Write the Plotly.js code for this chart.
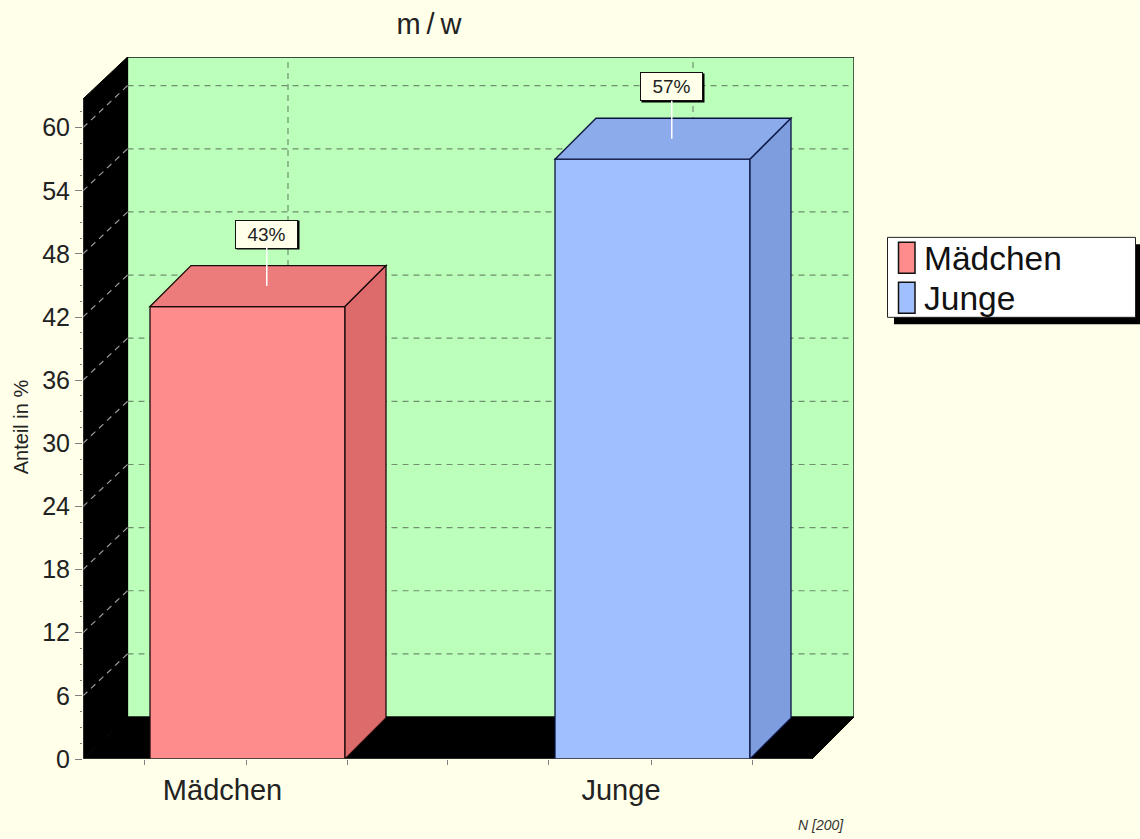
<!DOCTYPE html>
<html><head><meta charset="utf-8">
<script src="https://cdn.plot.ly/plotly-3.0.1.min.js"></script>
<style>html,body{margin:0;padding:0;background:#FFFFEA}</style>
</head><body><div id="chart" style="width:1140px;height:839px"></div>
<script>
const categories = ['Mädchen', 'Junge'];
const shares = [43, 57];
const pointLabels = ['43%', '57%'];
const frontColors = ['#FF8C8C', '#A0BFFF'];
const topColors = ['#EC7B7B', '#8CABEB'];
const sideColors = ['#DD6B6B', '#7E9DDE'];
const edgeColors = ['#1A0A0A', '#0C1440'];
const yTicks = [0, 6, 12, 18, 24, 30, 36, 42, 48, 54, 60];
const yMinorTicks = [1.5, 3, 4.5, 7.5, 9, 10.5, 13.5, 15, 16.5, 19.5, 21, 22.5, 25.5, 27, 28.5, 31.5, 33, 34.5, 37.5, 39, 40.5, 43.5, 45, 46.5, 49.5, 51, 52.5, 55.5, 57, 58.5, 61.5];
const xTickMarks = [-0.2531, -0.0037, 0.2469, 0.4938, 0.7444, 0.9963, 1.2469];
const xLabelPositions = [-0.0617, 0.9222];

// frame geometry
const L = 83, R = 854, T = 56.5, B = 759;
const pxPerX = 405, pxPerY = 10.53;
const xMin = -(247.5 - L) / pxPerX, xMax = (R - 247.5) / pxPerX;
const yMax = (B - T) / pxPerY;
const wallLeftDX = 44.5 / pxPerX, wallRightDX = 42 / pxPerX, wallDY = 42 / pxPerY;
const barDX = 41 / pxPerX, barDY = 41 / pxPerY;
const barWidth = 195 / pxPerX;
const frontRight = xMax - wallRightDX;
const frontTop = yMax - wallDY;
const px = p => (p - L) / (R - L);
const py = p => (B - p) / (B - T);

const poly = (pts, fill, lineColor, layer, w) => ({
  type: 'path', xref: 'x', yref: 'y', layer: layer || 'below',
  path: 'M' + pts.map(q => q[0] + ',' + q[1]).join('L') + 'Z',
  fillcolor: fill, line: { color: lineColor || fill, width: w || 1 }
});
const seg = (x0, y0, x1, y1, color, dash, layer, w) => ({
  type: 'line', xref: 'x', yref: 'y', layer: layer || 'below',
  x0, y0, x1, y1, line: { color, width: w || 1, dash: dash || 'solid' }
});
const box = (x0, y0, x1, y1, fill, lineColor, w) => ({
  type: 'rect', xref: 'paper', yref: 'paper', layer: 'above',
  x0: px(x0), x1: px(x1), y0: py(y0), y1: py(y1),
  fillcolor: fill, line: { color: lineColor, width: w === undefined ? 1 : w }
});

const shapes = [];
// back wall, side wall, floor
shapes.push(poly([[xMin + wallLeftDX, wallDY], [xMax, wallDY], [xMax, yMax], [xMin + wallLeftDX, yMax]], '#BBFFBB', '#111111', 'below', 1.3));
shapes.push(poly([[xMin, 0], [xMin, frontTop], [xMin + wallLeftDX, yMax], [xMin + wallLeftDX, wallDY]], '#000000'));
shapes.push(poly([[xMin, 0], [xMin + wallLeftDX, wallDY], [xMax, wallDY], [frontRight, 0]], '#000000'));
// grid
const dashPattern = '6px,5px';
yTicks.filter(v => v > 0).forEach(v => {
  shapes.push(seg(xMin + wallLeftDX, v + wallDY, xMax - 0.005, v + wallDY, '#6F8F6F', dashPattern, 'below', 1.2));
  shapes.push(seg(xMin, v, xMin + wallLeftDX, v + wallDY, '#9A9A9A', dashPattern, 'below', 1.2));
});
categories.forEach((c, i) => {
  const gx = i + wallRightDX - 0.0037;
  shapes.push(seg(gx, wallDY, gx, yMax, '#6F8F6F', dashPattern, 'below', 1.2));
});
// bar top and side faces
categories.forEach((c, i) => {
  const l = i - barWidth / 2, r = i + barWidth / 2, v = shares[i];
  shapes.push(poly([[l, v], [l + barDX, v + barDY], [r + barDX, v + barDY], [r, v]], topColors[i], edgeColors[i], 'above', 1.3));
  shapes.push(poly([[r, 0], [r, v], [r + barDX, v + barDY], [r + barDX, barDY]], sideColors[i], edgeColors[i], 'above', 1.3));
});
// axis lines
shapes.push(seg(xMin, 0, frontRight, 0, '#555555', 'solid', 'above'));
shapes.push(seg(xMin, 0, xMin, frontTop, '#555555', 'solid', 'above'));
// legend
shapes.push(box(894, 244, 1140, 324, '#000000', '#000000', 0));
shapes.push(box(887.5, 237, 1135.5, 317, '#FFFFFF', '#222222'));
const legendRows = [[242, 273], [282, 313]];
categories.forEach((c, i) => shapes.push(box(898.5, legendRows[i][0], 915, legendRows[i][1], frontColors[i], '#111111', 1.5)));

const annotations = [];
categories.forEach((c, i) => {
  const base = { x: i + barDX * 0.47, y: shares[i] + barDY / 2, xref: 'x', yref: 'y', axref: 'pixel', ayref: 'pixel',
    ax: 0, ay: -52, arrowcolor: '#FFFFFF', arrowwidth: 1.5, arrowhead: 0, showarrow: true, standoff: 0, startstandoff: 0,
    width: 61, height: 27, borderpad: 0, align: 'center', valign: 'middle' };
  annotations.push({ x: base.x, y: base.y, xref: 'x', yref: 'y', text: ' ', showarrow: false, xshift: 1, yshift: 51,
    width: 62, height: 28, bgcolor: '#000000', borderpad: 0 });
  annotations.push(Object.assign({}, base, { text: pointLabels[i], bgcolor: '#FFFFEA', bordercolor: '#111111', borderwidth: 1,
    font: { family: 'Liberation Sans', size: 19, color: '#222222' } }));
  annotations.push({ xref: 'paper', yref: 'paper', x: px(922.5), y: py(258 + i * 40), xanchor: 'left', yanchor: 'middle', showarrow: false,
    text: c, font: { family: 'Liberation Sans', size: 33.5, color: '#111111' } });
});
annotations.push({ xref: 'paper', yref: 'paper', x: px(21), y: py(426), textangle: -90, showarrow: false, xanchor: 'center', yanchor: 'middle',
  text: 'Anteil in %', font: { family: 'Liberation Sans', size: 20, color: '#222222' } });
annotations.push({ xref: 'paper', yref: 'paper', x: px(821), y: py(825), showarrow: false, xanchor: 'center', yanchor: 'middle',
  text: '<i>N [200]</i>', font: { family: 'Liberation Sans', size: 14, color: '#333333' } });

const traces = categories.map((c, i) => ({
  type: 'bar', name: c, x: [i], y: [shares[i]], width: barWidth,
  marker: { color: frontColors[i], line: { color: edgeColors[i], width: 1.3 } },
  hoverinfo: 'x+y', cliponaxis: false
}));

const layout = {
  width: 1140, height: 839, autosize: false, showlegend: false,
  paper_bgcolor: '#FFFFEA', plot_bgcolor: 'rgba(0,0,0,0)',
  margin: { l: L, r: 1140 - R, t: T, b: 839 - B, pad: 0 },
  barmode: 'overlay',
  title: { text: 'm\u2009/\u2009w', x: 429 / 1140, xanchor: 'center', y: 1 - 24 / 839, yanchor: 'middle',
    font: { family: 'Liberation Sans', size: 29, color: '#222222' } },
  xaxis: { type: 'linear', range: [xMin, xMax], showgrid: false, zeroline: false, showline: false,
    tickmode: 'array', tickvals: xLabelPositions, ticktext: categories, ticks: '', ticklen: 0, ticklabelstandoff: 11,
    tickfont: { family: 'Liberation Sans', size: 29, color: '#222222' },
    minor: { tickmode: 'array', tickvals: xTickMarks, ticks: 'outside', ticklen: 5, tickcolor: '#808080', tickwidth: 1, showgrid: false } },
  yaxis: { range: [0, yMax], showgrid: false, zeroline: false, showline: false,
    tickmode: 'array', tickvals: yTicks, ticktext: yTicks.map(String), ticks: 'outside', ticklen: 7, tickcolor: '#808080', tickwidth: 1,
    tickfont: { family: 'Liberation Sans', size: 25, color: '#222222' },
    minor: { tickmode: 'array', tickvals: yMinorTicks, ticks: 'outside', ticklen: 2, tickcolor: '#808080', tickwidth: 1, showgrid: false } },
  shapes, annotations
};
Plotly.newPlot('chart', traces, layout, { displayModeBar: false, staticPlot: true });
</script></body></html>
